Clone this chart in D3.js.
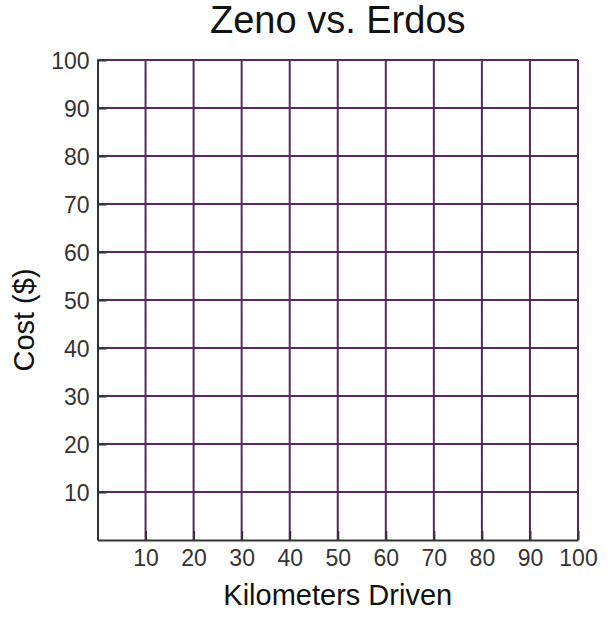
<!DOCTYPE html>
<html>
<head>
<meta charset="utf-8">
<script src="https://cdn.jsdelivr.net/npm/d3@7"></script>
<style>
  body { margin: 0; background: #fff; }
  svg { display: block; }
  text { font-family: Arial, "Liberation Sans", sans-serif; }
</style>
</head>
<body>
<svg id="chart" width="608" height="617"></svg>
<script>
// chart values
var title = "Zeno vs. Erdos";
var xLabel = "Kilometers Driven";
var yLabel = "Cost ($)";
var xDomain = [0, 100];
var yDomain = [0, 100];
var xTicks = [10, 20, 30, 40, 50, 60, 70, 80, 90, 100];
var yTicks = [10, 20, 30, 40, 50, 60, 70, 80, 90, 100];

var margin = {top: 60, right: 30, bottom: 77, left: 97.5},
    width = 608 - margin.left - margin.right,
    height = 617 - margin.top - margin.bottom;

var svg = d3.select("#chart");

var x = d3.scaleLinear().domain(xDomain).range([0, 480.5]),
    y = d3.scaleLinear().domain(yDomain).range([480, 0]);

var g = svg.append("g")
    .attr("transform", "translate(" + margin.left + "," + margin.top + ")");

var gridColor = "#5a2660";

// vertical grid lines
g.selectAll(".vgrid")
  .data(xTicks)
  .enter().append("line")
    .attr("class", "vgrid")
    .attr("x1", function(d) { return x(d); })
    .attr("x2", function(d) { return x(d); })
    .attr("y1", y(100))
    .attr("y2", y(0))
    .attr("stroke", gridColor)
    .attr("stroke-width", 2);

// horizontal grid lines
g.selectAll(".hgrid")
  .data(yTicks)
  .enter().append("line")
    .attr("class", "hgrid")
    .attr("x1", x(0))
    .attr("x2", x(100))
    .attr("y1", function(d) { return y(d); })
    .attr("y2", function(d) { return y(d); })
    .attr("stroke", gridColor)
    .attr("stroke-width", 2);

// x axis, ticks pointing inward
var xAxis = g.append("g")
    .attr("transform", "translate(0," + y(0) + ")")
    .call(d3.axisBottom(x).tickValues(xTicks).tickSizeInner(-9).tickSizeOuter(0).tickPadding(0));

// y axis, ticks pointing inward
var yAxis = g.append("g")
    .call(d3.axisLeft(y).tickValues(yTicks).tickSizeInner(-9).tickSizeOuter(0).tickPadding(0));

[xAxis, yAxis].forEach(function(ax) {
  ax.select(".domain").attr("stroke", "#333").attr("stroke-width", 2);
  ax.selectAll(".tick line").attr("stroke", "#333").attr("stroke-width", 2);
  ax.selectAll(".tick text")
    .attr("fill", "#333")
    .style("font-size", "23px")
    .attr("font-family", null);
});

xAxis.selectAll(".tick text")
    .attr("y", 26)
    .attr("dy", null);

yAxis.selectAll(".tick text")
    .attr("x", -8)
    .attr("dy", "0.35em");

// title
svg.append("text")
    .attr("x", margin.left + x(50))
    .attr("y", 33)
    .attr("text-anchor", "middle")
    .attr("fill", "#111")
    .style("font-size", "38px")
    .text(title);

// x label
svg.append("text")
    .attr("x", margin.left + x(50))
    .attr("y", 605)
    .attr("text-anchor", "middle")
    .attr("fill", "#111")
    .style("font-size", "29px")
    .text(xLabel);

// y label
svg.append("text")
    .attr("transform", "translate(34," + 320 + ") rotate(-90)")
    .attr("text-anchor", "middle")
    .attr("fill", "#111")
    .style("font-size", "29px")
    .text(yLabel);
</script>
</body>
</html>
